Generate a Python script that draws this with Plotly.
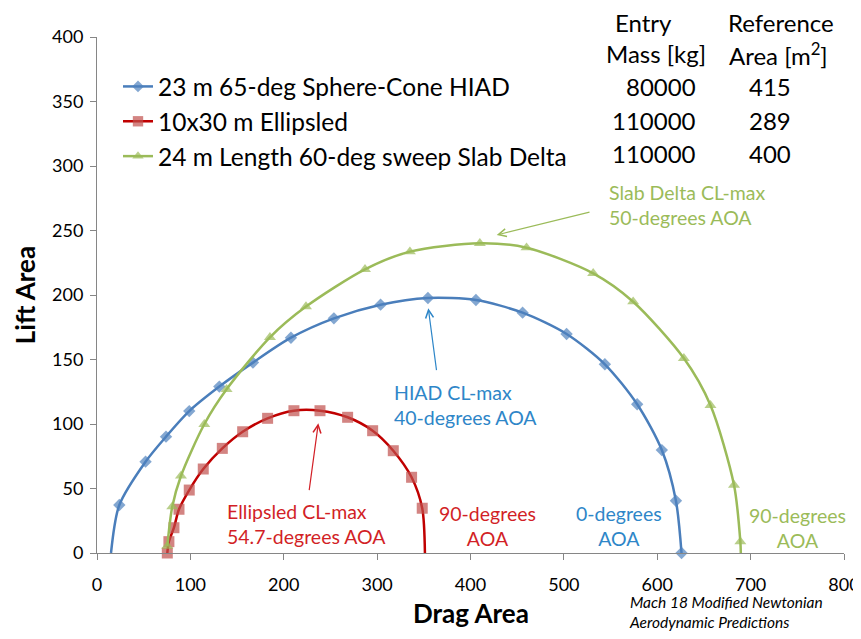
import plotly.graph_objects as go

# ---------------- data ----------------
hiad_drag = [15, 23.9, 52, 73.9, 98.8, 131, 167, 207.7, 253.7, 303.7, 354.4, 405.8, 455.8, 502.9, 543.9, 578.5, 604.9, 620, 626]
hiad_lift = [0, 37.2, 70.8, 90.2, 110, 129, 147.6, 166.9, 181.9, 192.5, 197.7, 196.1, 186.3, 169.8, 146.3, 115.3, 79.8, 40.5, 0]
hiad_marker_shown = [0] + [1] * 18

ell_drag = [75.3, 77, 82.4, 87.8, 98.8, 113.8, 134.2, 156, 182.7, 210.9, 238.8, 268.4, 295.2, 317.3, 336.9, 348.3, 351.2]
ell_lift = [0, 8.8, 19.6, 33.9, 48.8, 65.1, 81.1, 94, 104.4, 110.3, 110.3, 105.2, 94.8, 79.3, 58.7, 34.7, 0]
ell_marker_shown = [1] * 16 + [0]

slab_drag = [75.3, 80.6, 89.9, 114.9, 138.8, 185.2, 223.8, 287, 335.1, 410, 460, 531.4, 574.2, 628.5, 657, 682.2, 689, 689.5]
slab_lift = [5.4, 35.9, 59.7, 99.8, 126.9, 167.2, 191, 219.9, 233.6, 240.1, 236.7, 216.8, 194.8, 150.9, 114.5, 52.7, 8.8, 0]
slab_marker_shown = [1] * 17 + [0]

series_names = ["23 m 65-deg Sphere-Cone HIAD", "10x30 m Ellipsled", "24 m Length 60-deg sweep Slab Delta"]
entry_mass = ["80000", "110000", "110000"]
ref_area = ["415", "289", "400"]

x_ticks = [0, 100, 200, 300, 400, 500, 600, 700, 800]
y_ticks = [0, 50, 100, 150, 200, 250, 300, 350, 400]

FONT = "Lato"
BLUE_L, BLUE_M = "#4A7EBB", "#4F81BD"
RED_L, RED_M = "#C00000", "#C0504D"
GREEN = "#9BBB59"
BLUE_T = "#2E86C8"
RED_T = "#D21F26"

# The page body has an 8px default margin; size the figure so the page never scrolls.
OFF = 8
PL, PR, PT, PB = 97, 844, 37, 553  # plot area in window pixels
FIG_W, FIG_H = 861 - OFF, 639 - 2 * OFF

fig = go.Figure()

def add_series(x, y, shown, name, lc, mc, symbol, size, group):
    fig.add_trace(go.Scatter(
        x=x, y=y, name=name, mode="lines+markers",
        line=dict(color=lc, width=2.5, shape="spline", smoothing=0.8),
        marker=dict(symbol=symbol, color=mc, size=[size * s for s in shown], line=dict(width=0)),
        legendgroup=group, cliponaxis=False,
    ))

add_series(hiad_drag, hiad_lift, hiad_marker_shown, series_names[0], BLUE_L, BLUE_M, "diamond", 9.5, "a")
add_series(ell_drag, ell_lift, ell_marker_shown, series_names[1], RED_L, RED_M, "square", 11, "b")
add_series(slab_drag, slab_lift, slab_marker_shown, series_names[2], GREEN, GREEN, "triangle-up", 10.5, "c")

def dx(px):
    return (px - PL) / ((PR - PL) / 800)

def dy(py):
    return (PB - py) / ((PB - PT) / 400)

def pxp(px):
    return (px - PL) / (PR - PL)

def pyp(py):
    return (PB - py) / (PB - PT)

ann = []
def txt(text, px, py, color="#000000", size=19.5, align="center", xanchor="center"):
    ann.append(dict(x=pxp(px), y=pyp(py), xref="paper", yref="paper", text=text, showarrow=False,
                    xanchor=xanchor, yanchor="middle", align=align,
                    font=dict(family=FONT, size=size, color=color)))

def arrow(hx, hy, tx, ty, color):
    ann.append(dict(x=dx(hx), y=dy(hy), ax=dx(tx), ay=dy(ty), xref="x", yref="y", axref="x", ayref="y",
                    text="", showarrow=True, arrowhead=5, arrowsize=1.3, arrowwidth=1.2, arrowcolor=color))

# table header and values
TS = 24
txt("Entry", 643, 23, size=TS)
txt("Mass [kg]", 656, 54, size=TS)
txt("Reference", 781, 23, size=TS)
txt("Area [m<sup>2</sup>]", 778, 54, size=TS)
for i, (m, a) in enumerate(zip(entry_mass, ref_area)):
    ypx = 87 + i * 33.2
    txt(m, 698, ypx, size=TS, xanchor="right")
    txt(a, 770, ypx, size=TS)

# annotations
txt("Slab Delta CL-max<br>50-degrees AOA", 607, 205, color=GREEN, align="left", xanchor="left")
arrow(496.7, 235, 591, 211.7, GREEN)
txt("HIAD CL-max<br>40-degrees AOA", 392, 405, color=BLUE_T, align="left", xanchor="left")
arrow(428.3, 308.3, 436.7, 371.7, BLUE_T)
txt("Ellipsled CL-max<br>54.7-degrees AOA", 225, 524, color=RED_T, align="left", xanchor="left")
arrow(318.3, 423.3, 309, 491.7, RED_T)
txt("90-degrees<br>AOA", 488, 526, color=RED_T)
txt("0-degrees<br>AOA", 619, 526, color=BLUE_T)
txt("90-degrees<br>AOA", 797, 528, color=GREEN)
txt("<i>Mach 18 Modified Newtonian<br>Aerodynamic Predictions</i>", 627, 612, size=15.5,
    align="left", xanchor="left")
# x axis title
txt("<b>Drag Area</b>", 471, 613, size=26)

fig.update_layout(
    template="none",
    width=FIG_W, height=FIG_H,
    margin=dict(l=PL - OFF, r=(FIG_W + OFF) - PR, t=PT - OFF, b=(FIG_H + OFF) - PB, pad=0, autoexpand=False),
    paper_bgcolor="white", plot_bgcolor="white",
    font=dict(family=FONT, size=18, color="#000000"),
    showlegend=True,
    legend=dict(x=pxp(118), y=pyp(64), xanchor="left", yanchor="top", bgcolor="rgba(0,0,0,0)",
                font=dict(family=FONT, size=24.5, color="#000000"), tracegroupgap=0,
                itemwidth=30, borderwidth=0),
    xaxis=dict(range=[0, 800], tickvals=x_ticks, ticks="outside", ticklen=6, tickcolor="#868686",
               showline=True, linecolor="#868686", linewidth=1, showgrid=False, zeroline=False,
               automargin=False, ticklabelstandoff=9,
               tickfont=dict(family=FONT, size=18)),
    yaxis=dict(range=[0, 400], tickvals=y_ticks, ticks="outside", ticklen=6, tickcolor="#868686",
               showline=True, linecolor="#868686", linewidth=1, showgrid=False, zeroline=False,
               automargin=False, ticklabelstandoff=3,
               tickfont=dict(family=FONT, size=18),
               title=dict(text="<b>Lift Area</b>", font=dict(family=FONT, size=26), standoff=8)),
    annotations=ann,
)

fig.write_html("out.html")
